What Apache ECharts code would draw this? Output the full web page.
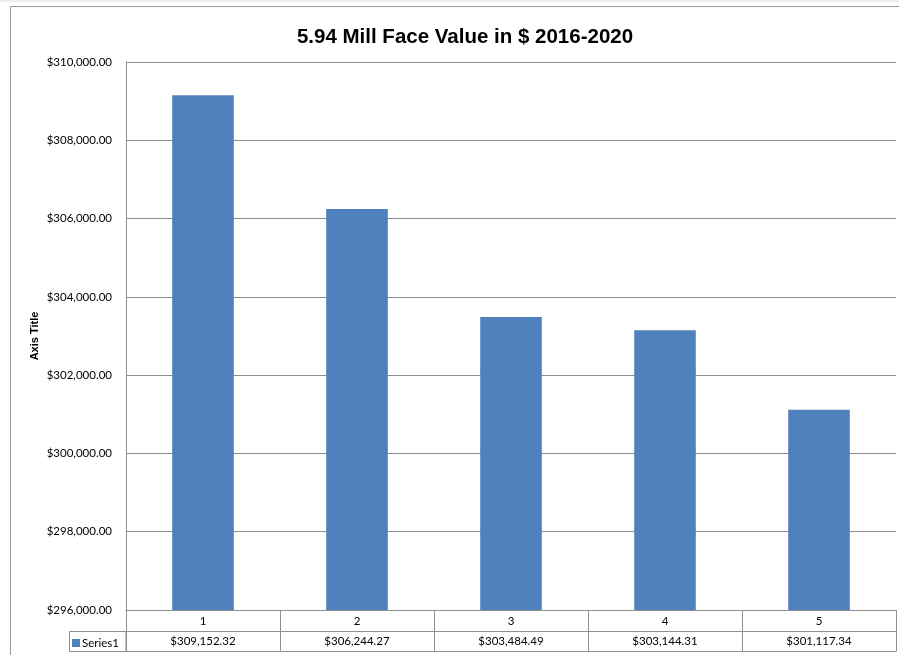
<!DOCTYPE html>
<html lang="en">
<head>
    <meta charset="UTF-8">
    <title>5.94 Mill Face Value</title>
    <script src="https://cdn.jsdelivr.net/npm/echarts@6/dist/echarts.min.js"></script>
    <style>
        html, body { margin: 0; padding: 0; background: #fff; }
    </style>
</head>
<body>
    <div id="main" style="width:899px;height:655px;"></div>
    <script>
    // data
    var categories = ['1', '2', '3', '4', '5'];
    var series1 = [309152.32, 306244.27, 303484.49, 303144.31, 301117.34];
    var yMin = 296000, yMax = 310000, yStep = 2000;

    function money(v) {
        return '$' + v.toLocaleString('en-US', { minimumFractionDigits: 2, maximumFractionDigits: 2 });
    }

    var lineGrey = '#8f8f8f';
    var font = 'Lato, "Liberation Sans", sans-serif';
    var boldFont = '"Liberation Sans", Arial, sans-serif';

    var myChart = echarts.init(document.getElementById('main'));
    myChart.setOption({
        animation: false,
        textStyle: { fontFamily: font, color: '#000' },
        title: {
            text: '5.94 Mill Face Value in $ 2016-2020',
            left: 460,
            textAlign: 'center',
            top: 22,
            textStyle: { fontSize: 20.5, fontWeight: 'bold', color: '#000', fontFamily: boldFont }
        },
        legend: {
            data: ['Series1'],
            left: 72,
            top: 637,
            padding: 0,
            itemWidth: 8,
            itemHeight: 8,
            icon: 'rect',
            textStyle: { fontSize: 11.5, color: '#000', padding: [0, 0, 0, -3] }
        },
        grid: { left: 126, right: 3, top: 62, bottom: 45 },
        xAxis: [{
            // header row of the data table
            type: 'category',
            data: categories,
            position: 'bottom',
            axisLine: { show: true, lineStyle: { color: lineGrey } },
            axisTick: { show: true, length: 21, lineStyle: { color: lineGrey } },
            axisLabel: { fontSize: 11.5, color: '#000', margin: 5 }
        }, {
            // value row of the data table
            type: 'category',
            data: categories,
            position: 'bottom',
            offset: 41,
            axisLine: { show: true, lineStyle: { color: lineGrey } },
            axisTick: { show: true, inside: true, length: 20, lineStyle: { color: lineGrey } },
            axisLabel: {
                inside: true, fontSize: 11.5, color: '#000', margin: 4,
                formatter: function (v, i) { return money(series1[i]); }
            }
        }, {
            type: 'category',
            data: categories,
            position: 'bottom',
            offset: 21,
            axisLine: { show: true, lineStyle: { color: lineGrey } },
            axisTick: { show: false },
            axisLabel: { show: false }
        }],
        yAxis: {
            type: 'value',
            min: yMin,
            max: yMax,
            interval: yStep,
            name: 'Axis Title',
            nameLocation: 'middle',
            nameGap: 86,
            nameMoveOverlap: false,
            nameRotate: 90,
            nameTextStyle: { fontSize: 11, fontWeight: 'bold', color: '#000', fontFamily: boldFont },
            axisLine: { show: true, lineStyle: { color: lineGrey } },
            axisTick: { show: false },
            axisLabel: { fontSize: 11.5, color: '#000', margin: 14, formatter: money },
            splitLine: { lineStyle: { color: lineGrey } }
        },
        graphic: [{
            type: 'rect',
            shape: { x: 0, y: 0, width: 899, height: 2 },
            style: { fill: '#eeeeee' },
            silent: true, z: -1
        }, {
            type: 'rect',
            shape: { x: 10.5, y: 6.5, width: 900, height: 660 },
            style: { fill: 'none', stroke: '#9a9a9a', lineWidth: 1 },
            silent: true, z: -1
        }, {
            type: 'rect',
            shape: { x: 69.5, y: 631.5, width: 56.5, height: 20 },
            style: { fill: 'none', stroke: lineGrey, lineWidth: 1 },
            silent: true
        }],
        series: [{
            name: 'Series1',
            type: 'bar',
            xAxisIndex: 0,
            data: series1,
            barWidth: '40%',
            itemStyle: { color: '#4F81BD' }
        }]
    });
    </script>
</body>
</html>
